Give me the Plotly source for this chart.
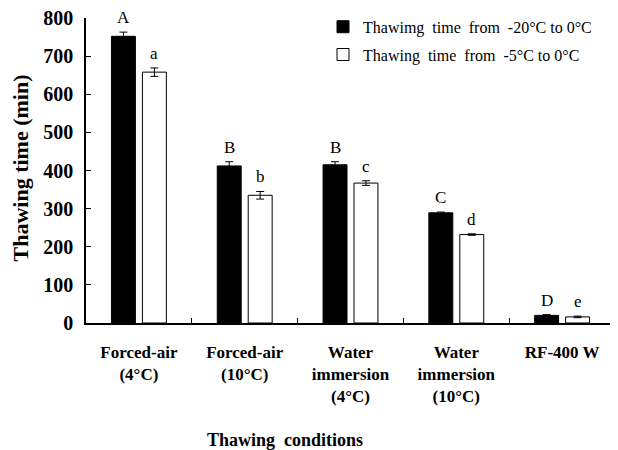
import plotly.graph_objects as go

categories = ["Forced-air<br>(4\u00b0C)", "Forced-air<br>(10\u00b0C)", "Water<br>immersion<br>(4\u00b0C)",
              "Water<br>immersion<br>(10\u00b0C)", "RF-400 W"]
series1_name = "Thawimg\u00a0 time\u00a0 from\u00a0 -20\u00b0C to 0\u00b0C"
series2_name = "Thawing\u00a0 time\u00a0 from\u00a0 -5\u00b0C to 0\u00b0C"
series1 = [752, 412, 415, 289, 20]
series1_err = [11, 11, 8, 2, 2]
series2 = [658, 335, 367, 232, 16]
series2_err = [11, 10, 6, 2, 2]
letters1 = ["A", "B", "B", "C", "D"]
letters2 = ["a", "b", "c", "d", "e"]

font_family = "Liberation Serif"

# page body has an 8px margin; figure sized so that it fills the 618x450 window
W, H = 610, 442
OFF = 8
PL, PR, PT, PB = 86, 615, 17, 323  # plot area in window pixels

fig = go.Figure()
fig.add_trace(go.Bar(
    x=categories, y=series1, name=series1_name, legendgroup="g1",
    marker=dict(color="black", line=dict(color="black", width=1)),
    error_y=dict(type="data", array=series1_err, color="black", thickness=1, width=4),
))
fig.add_trace(go.Bar(
    x=categories, y=series2, name=series2_name, legendgroup="g2",
    marker=dict(color="white", line=dict(color="black", width=1)),
    error_y=dict(type="data", array=series2_err, color="black", thickness=1, width=4),
))

# letters above bars
for i, c in enumerate(categories):
    fig.add_annotation(x=c, y=series1[i] + series1_err[i], text=letters1[i], showarrow=False,
                       xshift=-15.5, yanchor="bottom", yshift=3,
                       font=dict(family=font_family, size=17, color="black"))
    fig.add_annotation(x=c, y=series2[i] + series2_err[i], text=letters2[i], showarrow=False,
                       xshift=15.5, yanchor="bottom", yshift=3,
                       font=dict(family=font_family, size=17, color="black"))

# axis titles
fig.add_annotation(xref="x domain", yref="y domain",
                   x=(285 - PL) / (PR - PL), y=-(440 - PB) / (PB - PT),
                   xanchor="center", yanchor="middle",
                   text="<b>Thawing\u00a0 conditions</b>", showarrow=False,
                   font=dict(family=font_family, size=18, color="black"))
fig.add_annotation(xref="x domain", yref="y domain",
                   x=(21 - PL) / (PR - PL), y=(PB - 168) / (PB - PT),
                   xanchor="center", yanchor="middle", textangle=-90,
                   text="<b>Thawing time (min)</b>", showarrow=False,
                   font=dict(family=font_family, size=22, color="black"))

fig.update_layout(
    width=W, height=H,
    margin=dict(l=PL - OFF, r=W - (PR - OFF), t=PT - OFF, b=H - (PB - OFF)),
    paper_bgcolor="white", plot_bgcolor="white",
    barmode="group", bargap=0.415, bargroupgap=0.226,
    font=dict(family=font_family, color="black"),
    showlegend=True,
    legend=dict(x=(323 - PL) / (PR - PL), y=1.0235, xanchor="left", yanchor="top",
                font=dict(family=font_family, size=16, color="black"),
                bgcolor="rgba(0,0,0,0)", itemwidth=30, tracegroupgap=4, traceorder="grouped"),
    xaxis=dict(
        automargin=False,
        showline=True, linecolor="black", linewidth=1.5,
        ticks="inside", tickson="boundaries", ticklen=5, tickcolor="black",
        tickfont=dict(family=font_family, size=17, color="black", weight="bold"),
        ticklabelstandoff=13,
        tickangle=0,
    ),
    yaxis=dict(
        automargin=False,
        range=[0, 800], dtick=100, showgrid=False, zeroline=False,
        showline=True, linecolor="black", linewidth=1.5,
        ticks="inside", ticklen=5, tickcolor="black",
        tickfont=dict(family=font_family, size=20, color="black", weight="bold"),
        ticklabelstandoff=7, ticklabeloverflow="allow",
    ),
)

fig.write_html("out.html")
